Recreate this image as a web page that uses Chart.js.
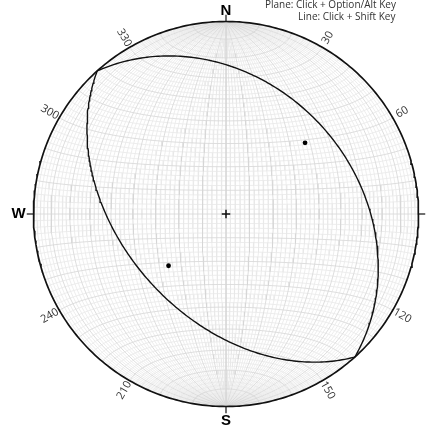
<!DOCTYPE html>
<html>
<head>
<meta charset="utf-8">
<script src="https://cdn.jsdelivr.net/npm/chart.js@4.4.1/dist/chart.umd.min.js"></script>
<style>
html, body { margin: 0; padding: 0; background: #fff; overflow: hidden; }
canvas { display: block; }
</style>
</head>
<body>
<canvas id="net" width="429" height="429"></canvas>
<script>
// planes, right hand rule strike / dip
var planeStrikes = [318, 138];
var planeDips = [33, 46];
// lines (poles to the planes), trend / plunge
var lineTrends = [48, 228];
var linePlunges = [44, 57];
// compass letters and azimuth labels round the primitive
var compassLabels = ['N', 'E', 'S', 'W'];
var compassAz = [0, 90, 180, 270];
var azLabels = [30, 60, 120, 150, 210, 240, 300, 330];
var gridStep = 2; // degrees between net lines
var hintLines = ['Plane: Click + Option/Alt Key', 'Line: Click + Shift Key'];

function toRad(a) { return a * Math.PI / 180; }

// equal area (Schmidt) lower hemisphere, unit primitive
function project(e, n, d) {
    if (d < 0) { e = -e; n = -n; d = -d; }
    var k = Math.sqrt(1 / (1 + d));
    return { x: e * k, y: n * k };
}

function lineDs(pts, color, width, order) {
    return {
        type: 'scatter', data: pts, showLine: true, pointRadius: 0,
        borderColor: color, borderWidth: width, fill: false, order: order, clip: false
    };
}

var datasets = [];

// the net: meridians (great circles through N and S) and latitudes (small circles round N-S)
for (var a = gridStep; a < 180; a += gridStep) {
    var major = a % 10 == 0;
    var col = major ? '#d6d6d6' : '#e8e8e8';
    var ord = major ? 20 : 21;
    // meridian, a is the dip measured from east over to west
    var dip = a <= 90 ? a : 180 - a;
    var sgn = a <= 90 ? 1 : -1;
    var m = [];
    for (var f = 0; f <= 180; f += 2) {
        var p = toRad(f);
        m.push(project(sgn * Math.sin(p) * Math.cos(toRad(dip)), Math.cos(p), Math.sin(p) * Math.sin(toRad(dip))));
    }
    datasets.push(lineDs(m, col, 0.8, ord));
    // latitude circle, a is angle from north pole
    var l = [];
    for (var g = 0; g <= 180; g += 2) {
        var q = toRad(g);
        l.push(project(Math.sin(toRad(a)) * Math.cos(q), Math.cos(toRad(a)), Math.sin(toRad(a)) * Math.sin(q)));
    }
    datasets.push(lineDs(l, col, 0.8, ord));
}

// primitive circle
var prim = [];
for (var t = 0; t <= 360; t += 1) {
    prim.push({ x: Math.cos(toRad(t)), y: Math.sin(toRad(t)) });
}
datasets.push(lineDs(prim, '#111', 1.7, 2));

// ticks at the cardinal points
compassAz.forEach(function(az) {
    var r = toRad(az);
    datasets.push(lineDs([{ x: Math.sin(r), y: Math.cos(r) }, { x: 1.035 * Math.sin(r), y: 1.035 * Math.cos(r) }], '#111', 1.2, 2));
});

// centre cross
datasets.push(lineDs([{ x: -0.022, y: 0 }, { x: 0.022, y: 0 }], '#111', 1.5, 2));
datasets.push(lineDs([{ x: 0, y: -0.022 }, { x: 0, y: 0.022 }], '#111', 1.5, 2));

// great circles for the planes
for (var i = 0; i < planeStrikes.length; i++) {
    var s = toRad(planeStrikes[i]);
    var dd = toRad(planeStrikes[i] + 90);
    var dp = toRad(planeDips[i]);
    var gc = [];
    for (var h = 0; h <= 180; h += 1) {
        var ph = toRad(h);
        gc.push(project(
            Math.cos(ph) * Math.sin(s) + Math.sin(ph) * Math.cos(dp) * Math.sin(dd),
            Math.cos(ph) * Math.cos(s) + Math.sin(ph) * Math.cos(dp) * Math.cos(dd),
            Math.sin(ph) * Math.sin(dp)));
    }
    datasets.push(lineDs(gc, '#111', 1.4, 1));
}

// lines as dots
var dots = [];
for (var j = 0; j < lineTrends.length; j++) {
    var tr = toRad(lineTrends[j]), pl = toRad(linePlunges[j]);
    dots.push(project(Math.cos(pl) * Math.sin(tr), Math.cos(pl) * Math.cos(tr), Math.sin(pl)));
}
datasets.push({ type: 'scatter', data: dots, pointRadius: 2.4, pointBackgroundColor: '#000', pointBorderWidth: 0, order: 0 });

var labelPlugin = {
    id: 'netLabels',
    afterDatasetsDraw: function(chart) {
        var ctx = chart.ctx, xs = chart.scales.x, ys = chart.scales.y;
        var cx = xs.getPixelForValue(0), cy = ys.getPixelForValue(0);
        var R = xs.getPixelForValue(1) - cx;
        var gap = [11, 20, 14, 15];
        ctx.save();
        ctx.textAlign = 'center';
        ctx.textBaseline = 'middle';
        ctx.fillStyle = '#000';
        ctx.font = 'bold 15px "Liberation Sans", Arial, sans-serif';
        compassLabels.forEach(function(lb, k) {
            var r = toRad(compassAz[k]);
            ctx.fillText(lb, cx + (R + gap[k]) * Math.sin(r), cy - (R + gap[k]) * Math.cos(r));
        });
        ctx.fillStyle = '#333';
        ctx.font = '11px "Open Sans", "Liberation Sans", sans-serif';
        azLabels.forEach(function(az) {
            var r = toRad(az);
            ctx.save();
            ctx.translate(cx + (R + 11) * Math.sin(r), cy - (R + 11) * Math.cos(r));
            ctx.rotate(toRad(az < 180 ? az - 90 : az - 270));
            ctx.fillText(String(az), 0, 0);
            ctx.restore();
        });
        ctx.fillStyle = '#333';
        ctx.font = '10px "Open Sans", "Liberation Sans", sans-serif';
        ctx.textAlign = 'left';
        ctx.fillText(hintLines[0], 265, 5);
        ctx.fillText(hintLines[1], 298, 17);
        ctx.restore();
    }
};

var ctx = document.getElementById('net').getContext('2d');
var chart = new Chart(ctx, {
    type: 'scatter',
    data: { datasets: datasets },
    options: {
        responsive: false,
        animation: false,
        devicePixelRatio: 1,
        layout: { padding: 0, autoPadding: false },
        plugins: { legend: { display: false }, tooltip: { enabled: false } },
        scales: {
            x: { display: false, min: -226 / 192.5, max: 203 / 192.5 },
            y: { display: false, min: -215 / 192.5, max: 214 / 192.5 }
        }
    },
    plugins: [labelPlugin]
});
</script>
</body>
</html>
